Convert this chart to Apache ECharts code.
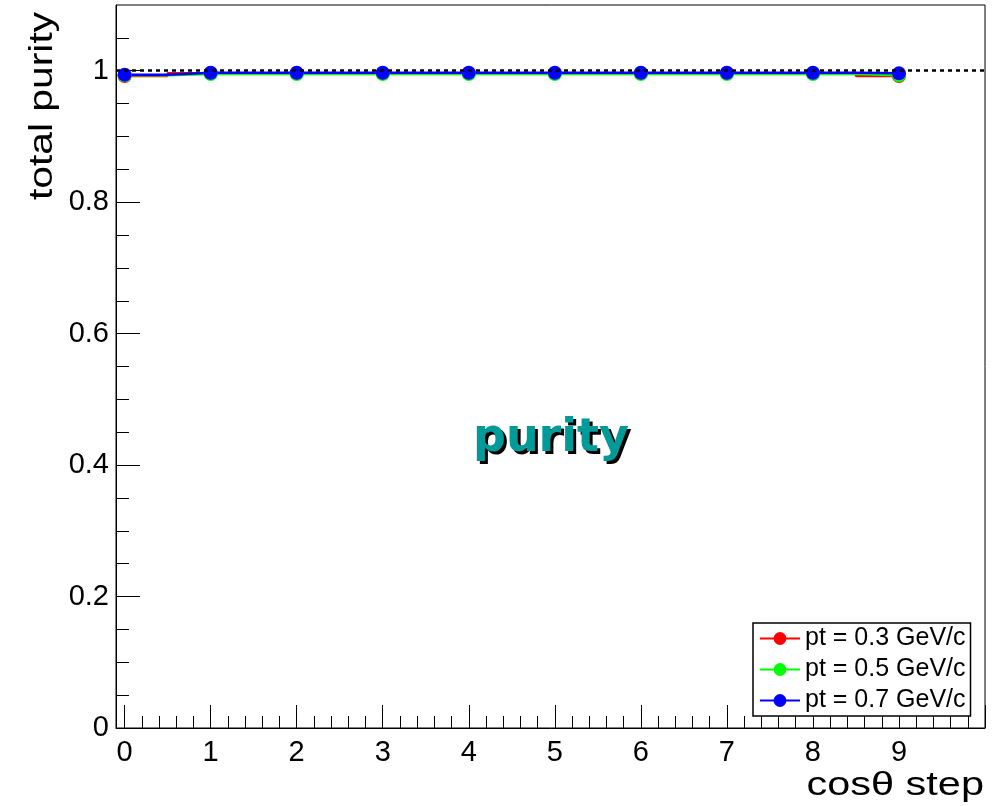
<html>
<head>
    <meta charset="UTF-8" />
    <script src="https://cdn.jsdelivr.net/npm/echarts@6/dist/echarts.min.js"></script>
    <style>
        body { margin: 0; background: #fff; }
        #container { width: 1000px; height: 806px; }
    </style>
</head>
<body>
<div id="container"></div>
<script>
    // cos(theta) step index
    var steps = [0, 1, 2, 3, 4, 5, 6, 7, 8, 9];
    // total purity per pt bin
    var purityPt03 = [0.992, 0.996, 0.996, 0.996, 0.996, 0.996, 0.996, 0.996, 0.996, 0.992];
    var purityPt05 = [0.993, 0.995, 0.995, 0.995, 0.995, 0.995, 0.995, 0.995, 0.995, 0.993];
    var purityPt07 = [0.994, 0.997, 0.997, 0.997, 0.997, 0.997, 0.997, 0.997, 0.997, 0.996];
    var seriesNames = ['pt = 0.3 GeV/c', 'pt = 0.5 GeV/c', 'pt = 0.7 GeV/c'];
    var seriesColors = ['#ff0000', '#00ff00', '#0000ff'];

    // axis ticks and labels
    var xLabelValues = [0, 1, 2, 3, 4, 5, 6, 7, 8, 9];
    var xMajorTicks = [0, 1, 2, 3, 4, 5, 6, 7, 8, 9, 10];
    var yLabelValues = [0, 0.2, 0.4, 0.6, 0.8, 1];
    var yMajorTicks = [0, 0.2, 0.4, 0.6, 0.8, 1];

    var xMinorTicks = [];
    for (var i = 1; i < 50; i++) {
        if (i % 5 != 0) xMinorTicks.push(i / 5);
    }
    var yMinorTicks = [];
    for (var j = 1; j <= 21; j++) {
        if (j % 4 != 0) yMinorTicks.push(j / 20);
    }

    function pairs(xs, ys) {
        var out = [];
        for (var k = 0; k < xs.length; k++) out.push([xs[k], ys[k]]);
        return out;
    }

    var labelFont = 'Liberation Sans';

    var series = [purityPt03, purityPt05, purityPt07].map(function (vals, idx) {
        var s = {
            name: seriesNames[idx],
            type: 'line',
            step: 'middle',
            data: pairs(steps, vals),
            symbol: 'circle',
            symbolSize: 14,
            color: seriesColors[idx],
            lineStyle: { width: 2.5, color: seriesColors[idx] },
            itemStyle: { color: seriesColors[idx] },
            animation: false
        };
        if (idx == 0) {
            s.markLine = {
                silent: true,
                symbol: ['none', 'none'],
                label: { show: false },
                lineStyle: { color: '#000', type: [4, 4], width: 2.5 },
                data: [{ yAxis: 1 }]
            };
        }
        return s;
    });

    var option = {
        backgroundColor: '#fff',
        animation: false,
        grid: {
            left: 116, right: 15, top: 5, bottom: 78,
            show: true, borderColor: '#000', borderWidth: 1, backgroundColor: 'transparent'
        },
        legend: {
            orient: 'vertical',
            left: 753, top: 623,
            padding: [3, 5, 3, 6],
            itemGap: 6,
            itemWidth: 40,
            itemHeight: 16,
            borderColor: '#000',
            borderWidth: 1.5,
            backgroundColor: '#fff',
            textStyle: { fontFamily: labelFont, fontSize: 25, color: '#000', lineHeight: 24 },
            data: seriesNames
        },
        xAxis: [{
            type: 'value', min: -0.1, max: 10,
            axisLine: { onZero: false, lineStyle: { color: '#000', width: 1 } },
            axisTick: { inside: true, length: 23, customValues: xMajorTicks, lineStyle: { color: '#000' } },
            axisLabel: { customValues: xLabelValues, fontFamily: labelFont, fontSize: 29, color: '#000', margin: 10 },
            splitLine: { show: false }
        }, {
            type: 'value', min: -0.1, max: 10, position: 'bottom',
            axisLine: { show: false, onZero: false },
            axisTick: { inside: true, length: 12, customValues: xMinorTicks, lineStyle: { color: '#000' } },
            axisLabel: { show: false },
            splitLine: { show: false }
        }],
        yAxis: [{
            type: 'value', min: 0, max: 1.1,
            axisLine: { show: true, onZero: false, lineStyle: { color: '#000', width: 1 } },
            axisTick: { inside: true, length: 24, customValues: yMajorTicks, lineStyle: { color: '#000' } },
            axisLabel: { customValues: yLabelValues, fontFamily: labelFont, fontSize: 29, color: '#000', margin: 7 },
            splitLine: { show: false }
        }, {
            type: 'value', min: 0, max: 1.1, position: 'left',
            axisLine: { show: false, onZero: false },
            axisTick: { inside: true, length: 13, customValues: yMinorTicks, lineStyle: { color: '#000' } },
            axisLabel: { show: false },
            splitLine: { show: false }
        }],
        graphic: [{
            type: 'text', x: 43, y: 106, rotation: Math.PI / 2, scaleX: 1.2,
            style: { text: 'total purity', font: '34px "Liberation Sans"', fill: '#000', textAlign: 'center', textVerticalAlign: 'middle' }
        }, {
            type: 'text', x: 984, y: 786, scaleX: 1.22,
            style: { text: 'cosθ step', font: '34px "Liberation Sans"', fill: '#000', textAlign: 'right', textVerticalAlign: 'middle' }
        }, {
            type: 'text', x: 554, y: 442,
            style: { text: 'purity', font: 'bold 46px "DejaVu Sans"', fill: '#000', textAlign: 'center', textVerticalAlign: 'middle' }
        }, {
            type: 'text', x: 551, y: 439,
            style: { text: 'purity', font: 'bold 46px "DejaVu Sans"', fill: '#009a99', textAlign: 'center', textVerticalAlign: 'middle' }
        }],
        series: series
    };

    var chart = echarts.init(document.getElementById('container'));
    chart.setOption(option);
</script>
</body>
</html>
